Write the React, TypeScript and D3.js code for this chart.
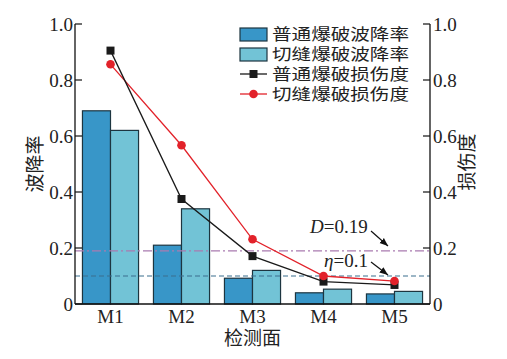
import React from "react";
import * as d3 from "d3";

const categories = ["M1", "M2", "M3", "M4", "M5"];
const waveNormal = [0.69, 0.21, 0.092, 0.04, 0.036];
const waveSlit = [0.62, 0.34, 0.12, 0.053, 0.045];
const damageNormal = [0.905, 0.375, 0.171, 0.08, 0.068];
const damageSlit = [0.856, 0.567, 0.231, 0.1, 0.082];
const yTicks = [0, 0.2, 0.4, 0.6, 0.8, 1.0];
const legendLabels = ["普通爆破波降率", "切缝爆破波降率", "普通爆破损伤度", "切缝爆破损伤度"];
const thresholdD = 0.19;
const thresholdEta = 0.1;

const W = 507, H = 359;
const L = 75, R = 430, T = 24, B = 304;
const C_DARK = "#3896c8";
const C_LIGHT = "#72c3d6";
const C_EDGE = "#1d3540";
const C_RED = "#e2222a";
const C_BLACK = "#1a1a1a";
const SERIF = "'Liberation Serif', 'Times New Roman', serif";
const CJK = "'Noto Sans CJK SC', sans-serif";

export default function App() {
  const x = d3.scaleBand<string>().domain(categories).range([L, R]).paddingInner(0.21).paddingOuter(0.105);
  const y = d3.scaleLinear().domain([0, 1]).range([B, T]);
  const bw = x.bandwidth() / 2;
  const cx = (c: string) => (x(c) as number) + x.bandwidth() / 2;
  const line = d3.line<number>().x((_, i) => cx(categories[i])).y((v) => y(v));

  return (
    <svg width={W} height={H} style={{ position: "absolute", left: 0, top: 0, background: "#fff" }}>
      {/* bars */}
      {categories.map((c, i) => (
        <g key={c}>
          <rect x={x(c)} y={y(waveNormal[i])} width={bw} height={B - y(waveNormal[i])} fill={C_DARK} stroke={C_EDGE} strokeWidth={1.2} />
          <rect x={(x(c) as number) + bw} y={y(waveSlit[i])} width={bw} height={B - y(waveSlit[i])} fill={C_LIGHT} stroke={C_EDGE} strokeWidth={1.2} />
        </g>
      ))}
      {/* threshold lines */}
      <line x1={L} x2={R} y1={y(thresholdD)} y2={y(thresholdD)} stroke="#a97bb0" strokeWidth={1.2} strokeDasharray="9 3 2 3" />
      <line x1={L} x2={R} y1={y(thresholdEta)} y2={y(thresholdEta)} stroke="#3b6f8e" strokeWidth={1.2} strokeDasharray="5 3" />
      {/* damage lines */}
      <path d={line(damageSlit) || ""} fill="none" stroke={C_RED} strokeWidth={1.3} />
      <path d={line(damageNormal) || ""} fill="none" stroke={C_BLACK} strokeWidth={1.3} />
      {damageNormal.map((v, i) => (
        <rect key={"s" + i} x={cx(categories[i]) - 4} y={y(v) - 4} width={8} height={8} fill={C_BLACK} />
      ))}
      {damageSlit.map((v, i) => (
        <circle key={"c" + i} cx={cx(categories[i])} cy={y(v)} r={4.3} fill={C_RED} />
      ))}
      {/* axes */}
      <line x1={L} x2={L} y1={T} y2={B} stroke="#111" strokeWidth={1.3} />
      <line x1={R} x2={R} y1={T} y2={B} stroke="#111" strokeWidth={1.3} />
      <line x1={L} x2={R} y1={B} y2={B} stroke="#111" strokeWidth={1.3} />
      {yTicks.map((t) => (
        <g key={t}>
          <line x1={L} x2={L + 7} y1={y(t)} y2={y(t)} stroke="#111" strokeWidth={1.2} />
          <line x1={R - 7} x2={R} y1={y(t)} y2={y(t)} stroke="#111" strokeWidth={1.2} />
          <text x={L - 2} y={y(t) + 6.5} textAnchor="end" fontFamily={SERIF} fontSize={19} fill="#222">{t === 0 ? "0" : t.toFixed(1)}</text>
          <text x={R + 3} y={y(t) + 6.5} textAnchor="start" fontFamily={SERIF} fontSize={19} fill="#222">{t === 0 ? "0" : t.toFixed(1)}</text>
        </g>
      ))}
      {categories.map((c) => (
        <text key={c} x={cx(c)} y={323} textAnchor="middle" fontFamily={SERIF} fontSize={19} fill="#222">{c}</text>
      ))}
      <text x={(L + R) / 2} y={345} textAnchor="middle" fontFamily={CJK} fontSize={19} fill="#222">检测面</text>
      <text transform={`translate(42,164) rotate(-90)`} textAnchor="middle" fontFamily={CJK} fontSize={19} fill="#222">波降率</text>
      <text transform={`translate(474,162) rotate(-90)`} textAnchor="middle" fontFamily={CJK} fontSize={19} fill="#222">损伤度</text>
      {/* annotations */}
      <text x={310} y={233} fontFamily={SERIF} fontSize={19} fill="#222"><tspan fontStyle="italic">D</tspan>=0.19</text>
      <text x={324} y={267} fontFamily={SERIF} fontSize={19} fill="#222"><tspan fontStyle="italic">η</tspan>=0.1</text>
      <defs>
        <marker id="ah" viewBox="0 0 10 10" refX="10" refY="5" markerWidth="7" markerHeight="7" orient="auto">
          <path d="M0,1 L10,5 L0,9 Z" fill="#111" />
        </marker>
      </defs>
      <line x1={371} y1={231} x2={388} y2={246} stroke="#111" strokeWidth={1.2} markerEnd="url(#ah)" />
      <line x1={371} y1={262} x2={388} y2={275} stroke="#111" strokeWidth={1.2} markerEnd="url(#ah)" />
      {/* legend */}
      {legendLabels.map((lab, i) => {
        const yy = 34 + i * 20;
        return (
          <g key={lab}>
            {i === 0 && <rect x={240} y={yy - 6} width={27} height={13} fill={C_DARK} stroke={C_EDGE} strokeWidth={1.2} />}
            {i === 1 && <rect x={240} y={yy - 6} width={27} height={13} fill={C_LIGHT} stroke={C_EDGE} strokeWidth={1.2} />}
            {i === 2 && (
              <g>
                <line x1={240} x2={267} y1={yy} y2={yy} stroke={C_BLACK} strokeWidth={1.3} />
                <rect x={249.5} y={yy - 4} width={8} height={8} fill={C_BLACK} />
              </g>
            )}
            {i === 3 && (
              <g>
                <line x1={240} x2={267} y1={yy} y2={yy} stroke={C_RED} strokeWidth={1.3} />
                <circle cx={253.5} cy={yy} r={4.3} fill={C_RED} />
              </g>
            )}
            <text x={272} y={yy + 6} fontFamily={CJK} fontSize={16} textLength={137} lengthAdjust="spacingAndGlyphs" fill="#222">{lab}</text>
          </g>
        );
      })}
    </svg>
  );
}
